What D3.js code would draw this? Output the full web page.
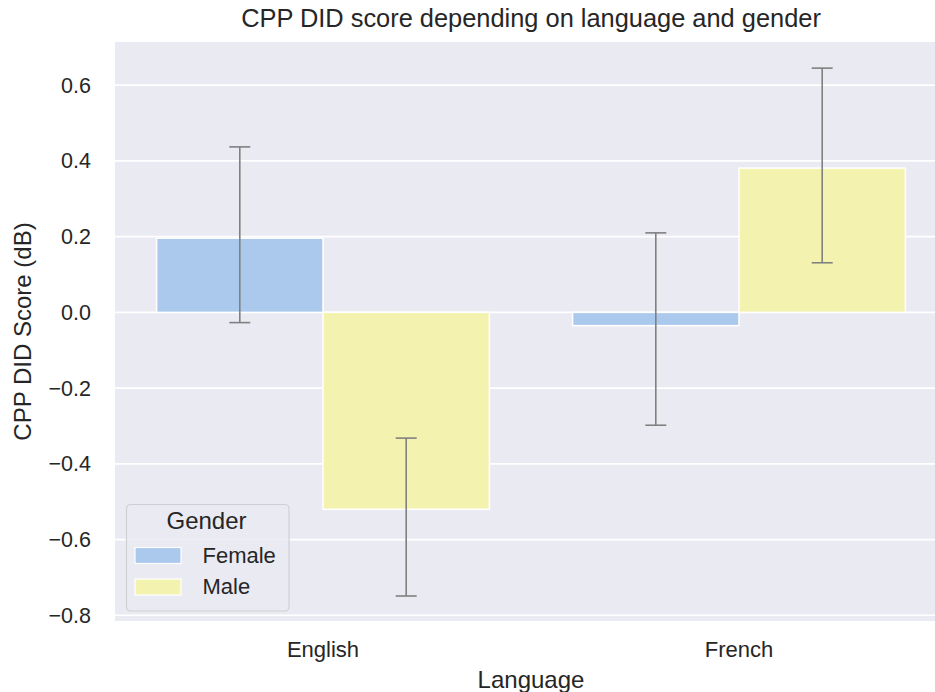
<!DOCTYPE html>
<html>
<head>
<meta charset="utf-8">
<script src="https://cdn.jsdelivr.net/npm/d3@7"></script>
<style>
  html, body { margin: 0; padding: 0; background: #ffffff; }
  svg { display: block; }
  text { font-family: "Liberation Sans", Arial, sans-serif; fill: #262626; }
</style>
</head>
<body>
<svg id="chart" width="935" height="692"></svg>
<script>
// Mean CPP DID score with confidence interval, by language and gender
const languages = ["English", "French"];
const genders = ["Female", "Male"];
const meanScores = {
  Female: [0.196, -0.035],
  Male:   [-0.520, 0.381]
};
const ciLow = {
  Female: [-0.027, -0.298],
  Male:   [-0.749, 0.131]
};
const ciHigh = {
  Female: [0.437, 0.210],
  Male:   [-0.332, 0.645]
};
const yTicks = [-0.8, -0.6, -0.4, -0.2, 0.0, 0.2, 0.4, 0.6];
const colors = { Female: "#abc9ed", Male: "#f3f3af" };

const svg = d3.select("#chart");
const plot = { left: 115, right: 947, top: 42, bottom: 621 };

const x = d3.scaleBand().domain(languages).range([plot.left, plot.right]).paddingInner(0).paddingOuter(0);
const x2 = d3.scaleBand().domain(genders).range([0, x.bandwidth() * 0.8]);
const y = d3.scaleLinear().domain([-0.815, 0.714]).range([plot.bottom, plot.top]);

// axes background
svg.append("rect")
  .attr("x", plot.left).attr("y", plot.top)
  .attr("width", plot.right - plot.left).attr("height", plot.bottom - plot.top)
  .attr("fill", "#eaeaf2");

// horizontal grid
svg.append("g")
  .selectAll("line").data(yTicks).join("line")
  .attr("x1", plot.left).attr("x2", plot.right)
  .attr("y1", d => y(d)).attr("y2", d => y(d))
  .attr("stroke", "#ffffff").attr("stroke-width", 1.6);

// y axis tick labels
const yAxis = d3.axisLeft(y).tickValues(yTicks).tickSize(0).tickPadding(24)
  .tickFormat(d => d3.format(".1f")(d).replace("-", "\u2212"));
const gy = svg.append("g").attr("transform", `translate(${plot.left},0)`).call(yAxis);
gy.select(".domain").remove();
gy.selectAll("text").attr("font-size", 21.5).style("fill", "#262626")
  .attr("font-family", "Liberation Sans, Arial, sans-serif");

// x axis tick labels
const xAxis = d3.axisBottom(x).tickSize(0).tickPadding(20);
const gx = svg.append("g").attr("transform", `translate(0,${plot.bottom})`).call(xAxis);
gx.select(".domain").remove();
gx.selectAll("text").attr("font-size", 22).style("fill", "#262626")
  .attr("font-family", "Liberation Sans, Arial, sans-serif");

// bars
const offset = x.bandwidth() * 0.1;
const barData = [];
languages.forEach((lang, i) => {
  genders.forEach(g => {
    barData.push({ lang, g, v: meanScores[g][i], lo: ciLow[g][i], hi: ciHigh[g][i] });
  });
});

svg.append("g").selectAll("rect").data(barData).join("rect")
  .attr("x", d => x(d.lang) + offset + x2(d.g))
  .attr("width", x2.bandwidth())
  .attr("y", d => y(Math.max(0, d.v)))
  .attr("height", d => Math.abs(y(d.v) - y(0)))
  .attr("fill", d => colors[d.g])
  .attr("stroke", "#ffffff").attr("stroke-width", 1.5);

// error bars
const capHalf = 10.5;
const eb = svg.append("g").attr("stroke", "#808080").attr("stroke-width", 1.6).attr("fill", "none");
barData.forEach(d => {
  const cx = x(d.lang) + offset + x2(d.g) + x2.bandwidth() / 2;
  eb.append("line").attr("x1", cx).attr("x2", cx).attr("y1", y(d.lo)).attr("y2", y(d.hi));
  eb.append("line").attr("x1", cx - capHalf).attr("x2", cx + capHalf).attr("y1", y(d.lo)).attr("y2", y(d.lo));
  eb.append("line").attr("x1", cx - capHalf).attr("x2", cx + capHalf).attr("y1", y(d.hi)).attr("y2", y(d.hi));
});

// title and axis labels
svg.append("text")
  .attr("x", (plot.left + plot.right) / 2).attr("y", 26.5)
  .attr("text-anchor", "middle").attr("font-size", 25.4)
  .text("CPP DID score depending on language and gender");

svg.append("text")
  .attr("x", (plot.left + plot.right) / 2).attr("y", 688)
  .attr("text-anchor", "middle").attr("font-size", 24)
  .text("Language");

svg.append("text")
  .attr("transform", `translate(31,${(plot.top + plot.bottom) / 2}) rotate(-90)`)
  .attr("text-anchor", "middle").attr("font-size", 24)
  .text("CPP DID Score (dB)");

// legend
const lg = svg.append("g").attr("transform", "translate(126.5,504.5)");
lg.append("rect")
  .attr("width", 162.5).attr("height", 106.5).attr("rx", 4)
  .attr("fill", "#eaeaf2").attr("fill-opacity", 0.8)
  .attr("stroke", "#cfcfd6").attr("stroke-width", 1.2);
lg.append("text").attr("x", 80).attr("y", 24).attr("text-anchor", "middle")
  .attr("font-size", 24).text("Gender");
genders.forEach((g, i) => {
  const row = lg.append("g").attr("transform", `translate(0,${43 + i * 31.5})`);
  row.append("rect").attr("x", 8.5).attr("width", 46).attr("height", 16)
    .attr("fill", colors[g]).attr("stroke", "#ffffff").attr("stroke-width", 1.2);
  row.append("text").attr("x", 76).attr("y", 15).attr("font-size", 22).text(g);
});
</script>
</body>
</html>
